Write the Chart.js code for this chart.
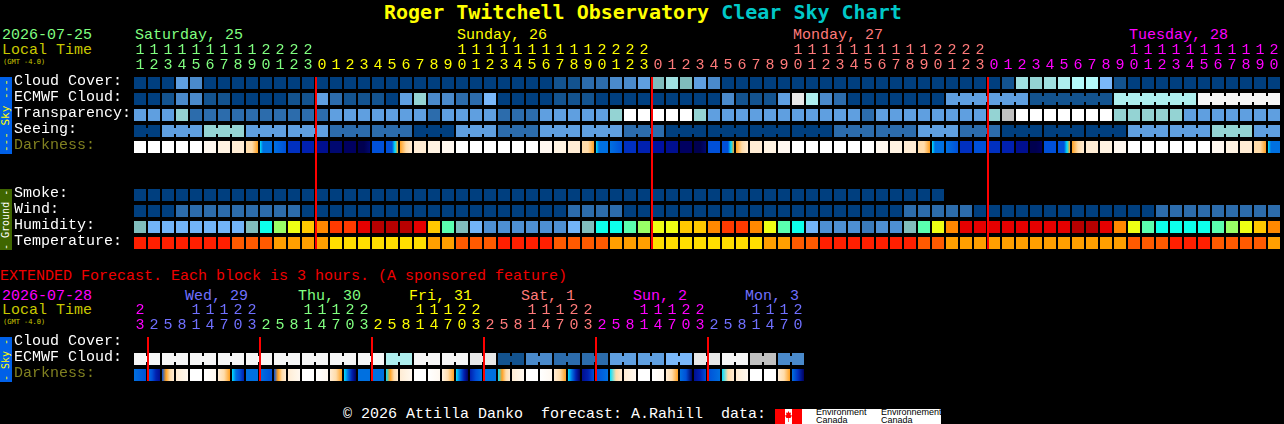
<!DOCTYPE html>
<html lang="en">
<head>
<meta charset="UTF-8">
<title>Roger Twitchell Observatory Clear Sky Chart</title>
<script src="https://cdn.jsdelivr.net/npm/chart.js@4"></script>
<style>
  html, body { margin: 0; background: #000; overflow: hidden; }
  #page { position: relative; width: 1284px; height: 424px; overflow: hidden; }
  #page canvas { position: absolute; left: 0; }
  .t { position: absolute; white-space: pre; font: 15px/16px "Liberation Mono", monospace; }
  .title { font: bold 20px/24px "DejaVu Sans Mono", monospace; top: 0; left: 384px; color: #ffff00; }
  .title span { color: #00c8c8; }
  .gmt { font-size: 7px; line-height: 8px; color: #c8c800; font-family: "DejaVu Sans Mono", monospace; }
  .side { position: absolute; left: 0; width: 12px; writing-mode: vertical-rl; transform: rotate(180deg);
          text-align: center; font-family: "DejaVu Sans Mono", monospace; line-height: 12px; white-space: pre; }
  .logo { position: absolute; left: 775px; top: 409px; width: 166px; height: 15px; background: #fff; }
  .logo div { position: absolute; }
  .logo .w { position: absolute; top: 0; font: 9px/7.5px "Liberation Sans", sans-serif; color: #000; white-space: pre; }
</style>
</head>
<body>
<div id="page">
  <div class="t title">Roger Twitchell Observatory <span>Clear Sky Chart</span></div>

  <div class="t" style="left:2px;top:28px;color:#80ff80">2026-07-25</div>
  <div class="t" style="left:2px;top:43px;color:#c8c800">Local Time</div>
  <div class="t gmt" style="left:3px;top:58px">(GMT -4.0)</div>
  <div class="t" style="left:135px;top:28px;color:#80ff80">Saturday, 25</div>
  <div class="t" style="left:457px;top:28px;color:#ffff00">Sunday, 26</div>
  <div class="t" style="left:793px;top:28px;color:#ff7a7a">Monday, 27</div>
  <div class="t" style="left:1129px;top:28px;color:#ff00ff">Tuesday, 28</div>

  <div class="side" style="top:77px;height:77px;background:#0060e8;color:#ffff00;font-size:11px">--- Sky ---</div>
  <div class="side" style="top:189px;height:61px;background:#3f6600;color:#fff;font-size:10px">- Ground -</div>
  <canvas id="mainChart" width="1284" height="225" style="top:40px"></canvas>

  <div class="t" style="left:0;top:269px;color:#f00000">EXTENDED Forecast. Each block is 3 hours. (A sponsored feature)</div>
  <div class="t" style="left:2px;top:289px;color:#ff00ff">2026-07-28</div>
  <div class="t" style="left:2px;top:303px;color:#c8c800">Local Time</div>
  <div class="t gmt" style="left:3px;top:318px">(GMT -4.0)</div>
  <div class="t" style="left:185px;top:289px;color:#7070ff">Wed, 29</div>
  <div class="t" style="left:298px;top:289px;color:#80ff80">Thu, 30</div>
  <div class="t" style="left:409px;top:289px;color:#ffff00">Fri, 31</div>
  <div class="t" style="left:521px;top:289px;color:#ff7a7a">Sat, 1</div>
  <div class="t" style="left:633px;top:289px;color:#ff00ff">Sun, 2</div>
  <div class="t" style="left:745px;top:289px;color:#7070ff">Mon, 3</div>

  <div class="side" style="top:337px;height:45px;background:#0060e8;color:#ffff00;font-size:10px">- Sky -</div>
  <canvas id="extChart" width="1284" height="97" style="top:300px"></canvas>

  <div class="t" style="left:343px;top:407px;color:#fff">© 2026 Attilla Danko  forecast: A.Rahill  data:</div>
  <div class="logo">
    <div style="left:0;top:0;width:10px;height:15px;background:#f00"></div>
    <div style="left:17px;top:0;width:10px;height:15px;background:#f00"></div>
    <svg style="position:absolute;left:10px;top:2px" width="7" height="11" viewBox="0 0 7 11">
      <polygon fill="#f00" points="3.5,0 4.5,2 6,1.5 5.5,4 7,4.5 5.5,7 3.8,7 3.8,11 3.2,11 3.2,7 1.5,7 0,4.5 1.5,4 1,1.5 2.5,2"/>
    </svg>
    <div class="w" style="left:41px">Environment
Canada</div>
    <div class="w" style="left:106px">Environnement
Canada</div>
  </div>
</div>

<script>
// Main forecast, one value per hour. Values are palette levels, see the scales below.
var mainHours = [11, 12, 13, 14, 15, 16, 17, 18, 19, 20, 21, 22, 23,
    0, 1, 2, 3, 4, 5, 6, 7, 8, 9, 10, 11, 12, 13, 14, 15, 16, 17, 18, 19, 20, 21, 22, 23,
    0, 1, 2, 3, 4, 5, 6, 7, 8, 9, 10, 11, 12, 13, 14, 15, 16, 17, 18, 19, 20, 21, 22, 23,
    0, 1, 2, 3, 4, 5, 6, 7, 8, 9, 10, 11, 12, 13, 14, 15, 16, 17, 18, 19, 20];
var mainDayStarts = [0, 13, 37, 61];
var mainDayColors = ['#80ff80', '#ffff00', '#ff7a7a', '#ff00ff'];

var mainRowLabels = ['Cloud Cover:', 'ECMWF Cloud:', 'Transparency:', 'Seeing:', 'Darkness:',
    'Smoke:', 'Wind:', 'Humidity:', 'Temperature:'];
var mainRowSlots = [0, 1, 2, 3, 4, 7, 8, 9, 10];

var cloudCover = [0, 0, 0, 4, 3, 0, 0, 0, 0, 0, 0, 0, 0,
    0, 0, 0, 0, 0, 0, 0, 0, 0, 0, 0, 0, 0, 0, 0, 0, 0, 1, 1, 2, 2, 3, 3, 4,
    6, 8, 6, 4, 3, 0, 0, 0, 0, 0, 0, 0, 0, 0, 0, 0, 0, 0, 0, 0, 0, 0, 0, 0,
    0, 1, 8, 7, 8, 9, 10, 10, 5, 1, 0, 0, 0, 0, 0, 0, 0, 0, 0, 0, 0];
var ecmwfCloud = [0, 0, 1, 3, 3, 1, 1, 0, 0, 0, 0, 1, 1,
    4, 2, 1, 1, 1, 0, 4, 7, 3, 3, 2, 2, 5, 0, 0, 0, 0, 1, 1, 1, 0, 0, 0, 0,
    0, 0, 0, 0, 0, 3, 1, 1, 1, 4, 13, 9, 3, 2, 0, 0, 0, 0, 0, 0, 0, 4, 4, 4,
    4, 4, 4, 1, 1, 1, 1, 1, 1, 9, 9, 9, 9, 9, 9, 12, 12, 12, 12, 12, 12];
var transparency = [4, 4, 4, 7, 2, 2, 2, 2, 2, 2, 2, 2, 2,
    2, 4, 4, 4, 4, 4, 4, 4, 2, 4, 4, 4, 4, 2, 2, 2, 4, 4, 4, 4, 4, 7, 11, 11,
    11, 11, 11, 7, 4, 4, 4, 4, 4, 4, 4, 4, 4, 4, 4, 2, 4, 4, 4, 4, 4, 4, 4, 4,
    7, 14, 11, 11, 11, 11, 11, 11, 11, 7, 7, 7, 7, 7, 4, 4, 4, 4, 4, 4, 4];
var seeing = [0, 0, 4, 4, 4, 7, 7, 7, 4, 4, 4, 4, 4,
    4, 2, 2, 2, 2, 2, 2, 0, 0, 0, 4, 4, 4, 2, 2, 2, 4, 4, 4, 4, 4, 4, 2, 2,
    2, 0, 0, 0, 0, 0, 0, 0, 0, 0, 0, 0, 0, 2, 2, 2, 2, 2, 2, 4, 4, 4, 2, 2,
    2, 0, 0, 0, 0, 0, 0, 0, 0, 0, 4, 4, 4, 4, 4, 4, 7, 7, 7, 4, 4];
var smoke = [0, 0, 0, 0, 0, 0, 0, 0, 0, 0, 0, 0, 0,
    0, 0, 0, 0, 0, 0, 0, 0, 0, 0, 0, 0, 0, 0, 0, 0, 0, 0, 0, 0, 0, 0, 0, 0,
    0, 0, 0, 0, 0, 0, 0, 0, 0, 0, 0, 0, 0, 0, 0, 0, 0, 0, 0, 0, 0];
var wind = [0, 0, 0, 2, 2, 2, 2, 2, 2, 2, 2, 2, 0,
    0, 0, 0, 0, 0, 0, 0, 0, 0, 0, 0, 0, 0, 0, 0, 0, 0, 0, 2, 2, 2, 2, 0, 0,
    0, 0, 0, 0, 0, 0, 0, 0, 0, 0, 0, 0, 0, 0, 0, 0, 0, 0, 2, 2, 2, 2, 2, 0,
    0, 0, 0, 0, 0, 0, 0, 0, 0, 0, 0, 0, 2, 2, 2, 2, 2, 2, 2, 2, 2];
var humidity = [9, 10, 10, 10, 10, 10, 10, 10, 9, 8, 6, 5, 4,
    3, 2, 2, 1, 0, 0, 0, 1, 4, 7, 9, 10, 11, 11, 11, 11, 11, 11, 10, 9, 8, 8, 7, 6,
    5, 5, 4, 4, 3, 2, 2, 3, 5, 7, 8, 10, 11, 11, 11, 12, 11, 11, 9, 7, 5, 3, 1, 1,
    1, 1, 1, 1, 1, 1, 0, 0, 1, 3, 5, 7, 8, 8, 8, 8, 7, 6, 5, 4, 3];
var temperature = [0, 0, 0, 0, 0, 0, 0, 1, 1, 1, 2, 2, 2,
    2, 3, 3, 3, 3, 3, 3, 3, 2, 2, 1, 1, 1, 0, 0, 0, 0, 1, 1, 1, 1, 2, 2, 2,
    3, 3, 3, 3, 3, 3, 3, 3, 2, 2, 1, 1, 0, 0, 0, 0, 0, 0, 0, 1, 1, 2, 2, 2,
    2, 2, 2, 2, 2, 2, 2, 2, 2, 2, 1, 1, 1, 0, 0, 0, 1, 1, 1, 1, 2];
var darkness = [[0], [0], [0], [0], [0], [1], [2], [3], [4, 4, 5], [6, 7, 7, 7, 7], [7, 8], [9], [10],
    [12], [13], [14], [15, 15, 13], [8], [8, 8, 8, 6, 5], [5, 4, 3], [3], [2], [1], [0], [0], [0], [0], [0], [0],
    [1], [2], [3], [4, 4, 5], [6, 7, 7, 7, 7], [7, 8], [9], [10],
    [11], [12], [14], [15, 15, 13], [8], [8, 8, 8, 6, 5], [5, 4, 3], [3], [2], [1], [0], [0], [0], [0], [0], [0],
    [1], [2], [3], [4, 4, 5], [6, 7, 7, 7, 7], [7, 8], [9], [8],
    [9], [10], [12], [15, 15, 14], [8], [8, 8, 8, 6, 5], [5, 4, 3], [3], [2], [1], [0], [0], [0], [0], [0], [0],
    [1], [2], [3], [4, 4, 5], [6, 7, 7, 7, 7]];
var mainMidnights = [13, 37, 61];

// Extended forecast, one value per 3 hour block
var extHours = [23,
    2, 5, 8, 11, 14, 17, 20, 23, 2, 5, 8, 11, 14, 17, 20, 23, 2, 5, 8, 11, 14, 17, 20, 23,
    2, 5, 8, 11, 14, 17, 20, 23, 2, 5, 8, 11, 14, 17, 20, 23, 2, 5, 8, 11, 14, 17, 20];
var extDayStarts = [0, 1, 9, 17, 25, 33, 41];
var extDayColors = ['#ff00ff', '#7070ff', '#80ff80', '#ffff00', '#ff7a7a', '#ff00ff', '#7070ff'];
var extRowLabels = ['Cloud Cover:', 'ECMWF Cloud:', 'Darkness:'];
var extRowSlots = [0, 1, 2];
var extCloud = [12, 12, 12, 12, 12, 12, 12, 12, 12, 12, 12, 12, 12, 12, 12, 12, 12, 12, 9, 9, 12, 12, 12, 12,
    13, 13, 1, 1, 3, 3, 2, 2, 2, 2, 4, 4, 4, 4, 5, 5, 13, 13, 12, 12, 14, 14, 3, 3];
var extDarkness = [[7, 8], [7, 8, 10, 12], [8, 5, 4, 3], [3, 2, 1], [0], [0, 1], [3, 4, 5], [6, 7, 8, 10],
    [7], [7, 8], [8, 5, 4, 3], [3, 2, 1], [0], [0, 1], [3, 4, 5], [6, 7, 10, 14],
    [7], [7], [6, 5, 4, 3], [3, 2, 1], [0], [0, 1], [2, 4, 5], [6, 7, 10, 14],
    [10, 8, 7], [7], [6, 5, 4, 3], [3, 2, 1], [0], [0, 1], [3, 4, 5], [6, 7, 10, 14],
    [12, 10, 8], [8, 7], [6, 4, 3], [3, 2, 1], [0], [0, 1], [3, 4, 5], [7, 8, 14],
    [12, 10, 8], [8, 7], [6, 4, 3], [3, 2, 1], [0], [0], [3, 4, 5], [7, 9, 14]];
var extMidnights = [1, 9, 17, 25, 33, 41];

// both charts share one column grid, the extended one just fills less of it
var gridColumns = 82;

// Colour scales
var skyScale = ['#003f7f', '#13538f', '#2c6cac', '#4a8acb', '#5f9fe0', '#7ab8fa', '#80bdbd', '#94d3d3',
    '#a0e0e0', '#aeeeee', '#b4fafa', '#ffffff', '#f6f6f6', '#e8e8e8', '#c0c0c0'];
var humidityScale = ['#b80000', '#e60000', '#ff3a00', '#ff8800', '#ffc800', '#eeff14', '#99ff66',
    '#5affaf', '#0dffeb', '#80bdbd', '#72b4f8', '#4d8fd3', '#3a7abb'];
var temperatureScale = ['#ff1f00', '#ff5a00', '#ff9f00', '#ffde00'];
var darkScale = ['#ffffff', '#fff8f0', '#fff3e2', '#ffecd4', '#ffdcaa', '#ffa020', '#00e0ff', '#0070e0',
    '#0050d8', '#0030c0', '#0020b0', '#0010a0', '#000f90', '#000870', '#000060', '#00004f'];

Chart.defaults.animation = false;
Chart.defaults.font.family = '"Liberation Mono", monospace';
Chart.defaults.font.size = 15;

var CELL = 6 / 16;   // half a cell height in row units
var LINK = 3 / 16;   // half a connector height

function cellRow(values, slot, scale) {
    var data = values.map(function (v, i) {
        return { x: i, y: [slot - CELL, slot + CELL], level: v };
    });
    return {
        data: data,
        barThickness: 12,
        backgroundColor: function (ctx) { return ctx.raw ? scale[ctx.raw.level] : 'transparent'; }
    };
}

// short bars bridging cells of one forecast block
function linkRow(values, slot, scale, isJoined) {
    var data = [];
    values.forEach(function (v, i) {
        if (i < values.length - 1 && isJoined(i)) {
            data.push({ x: i + 0.5, y: [slot - LINK, slot + LINK], level: v });
        }
    });
    return {
        data: data,
        barThickness: 2,
        backgroundColor: function (ctx) { return ctx.raw ? scale[ctx.raw.level] : 'transparent'; }
    };
}

function darkRow(values, slot) {
    return {
        data: values.map(function (v, i) {
            return { x: i, y: [slot - CELL, slot + CELL], stops: v };
        }),
        barThickness: 12,
        backgroundColor: function (ctx) {
            if (!ctx.raw) return 'transparent';
            var stops = ctx.raw.stops;
            var left = ctx.chart.scales.x.getPixelForValue(ctx.raw.x) - 6;
            // the scale has no pixels yet on the first pass
            if (stops.length === 1 || !isFinite(left)) return darkScale[stops[0]];
            var g = ctx.chart.ctx.createLinearGradient(left, 0, left + 12, 0);
            stops.forEach(function (s, k) { g.addColorStop(k / (stops.length - 1), darkScale[s]); });
            return g;
        }
    };
}

// midnight markers sit on the left edge of their cell
function midnightLines(cols, fromSlot, toSlot) {
    return {
        data: cols.map(function (c) { return { x: c - 6 / 14, y: [fromSlot - CELL, toSlot + CELL] }; }),
        barThickness: 2,
        backgroundColor: '#ff0000',
        order: -1
    };
}

function dayColor(col, starts, colors) {
    var k = 0;
    starts.forEach(function (s, n) { if (col >= s) k = n; });
    return colors[k];
}

function buildChart(id, cfg) {
    return new Chart(document.getElementById(id), {
        type: 'bar',
        data: { datasets: cfg.datasets },
        options: {
            responsive: false,
            animation: false,
            layout: { padding: { left: 14, right: 3, top: 0, bottom: 14 } },
            datasets: { bar: { grouped: false, borderWidth: 0, inflateAmount: 0, borderSkipped: false } },
            plugins: { legend: { display: false }, tooltip: { enabled: false } },
            scales: {
                x: {
                    type: 'linear',
                    position: 'top',
                    offset: false,
                    min: -0.5,
                    max: gridColumns - 0.5,
                    grid: { display: false, drawTicks: false },
                    border: { display: false },
                    afterFit: function (scale) { scale.height = 35; },
                    afterBuildTicks: function (scale) {
                        scale.ticks = cfg.hours.map(function (h, i) { return { value: i }; });
                    },
                    ticks: {
                        autoSkip: false,
                        maxRotation: 0,
                        padding: 2,
                        font: { size: 15, lineHeight: '15px' },
                        callback: function (value, index) {
                            var h = cfg.hours[index];
                            return h < 10 ? ['', String(h)] : [String(Math.floor(h / 10)), String(h % 10)];
                        },
                        color: function (ctx) { return dayColor(ctx.index, cfg.dayStarts, cfg.dayColors); }
                    }
                },
                y: {
                    type: 'linear',
                    reverse: true,
                    min: -0.5,
                    max: cfg.slotMax + 0.5,
                    grid: { display: false, drawTicks: false },
                    border: { display: false },
                    afterFit: function (scale) { scale.width = 119; },
                    afterBuildTicks: function (scale) {
                        scale.ticks = cfg.slots.map(function (s) { return { value: s }; });
                    },
                    ticks: {
                        crossAlign: 'far',
                        autoSkip: false,
                        padding: 0,
                        labelOffset: -2,
                        callback: function (value, index) { return cfg.labels[index]; },
                        color: function (ctx) { return cfg.labels[ctx.index] === 'Darkness:' ? '#808020' : '#ffffff'; }
                    }
                }
            }
        }
    });
}

window.onload = function () {
    buildChart('mainChart', {
        hours: mainHours,
        dayStarts: mainDayStarts,
        dayColors: mainDayColors,
        slots: mainRowSlots,
        labels: mainRowLabels,
        slotMax: 10,
        datasets: [
            midnightLines(mainMidnights, 0, 10),
            cellRow(cloudCover, 0, skyScale),
            cellRow(ecmwfCloud, 1, skyScale),
            linkRow(ecmwfCloud, 1, skyScale, function (i) { return i >= 58 && (i - 57) % 6 !== 0; }),
            cellRow(transparency, 2, skyScale),
            cellRow(seeing, 3, skyScale),
            linkRow(seeing, 3, skyScale, function (i) { return (i + 1) % 3 !== 2; }),
            darkRow(darkness, 4),
            cellRow(smoke, 7, skyScale),
            cellRow(wind, 8, skyScale),
            cellRow(humidity, 9, humidityScale),
            cellRow(temperature, 10, temperatureScale)
        ]
    });

    buildChart('extChart', {
        hours: extHours,
        dayStarts: extDayStarts,
        dayColors: extDayColors,
        slots: extRowSlots,
        labels: extRowLabels,
        slotMax: 2,
        datasets: [
            midnightLines(extMidnights, 0, 2),
            cellRow(extCloud, 1, skyScale),
            linkRow(extCloud, 1, skyScale, function (i) { return i % 2 === 0; }),
            darkRow(extDarkness, 2)
        ]
    });
};
</script>
</body>
</html>
